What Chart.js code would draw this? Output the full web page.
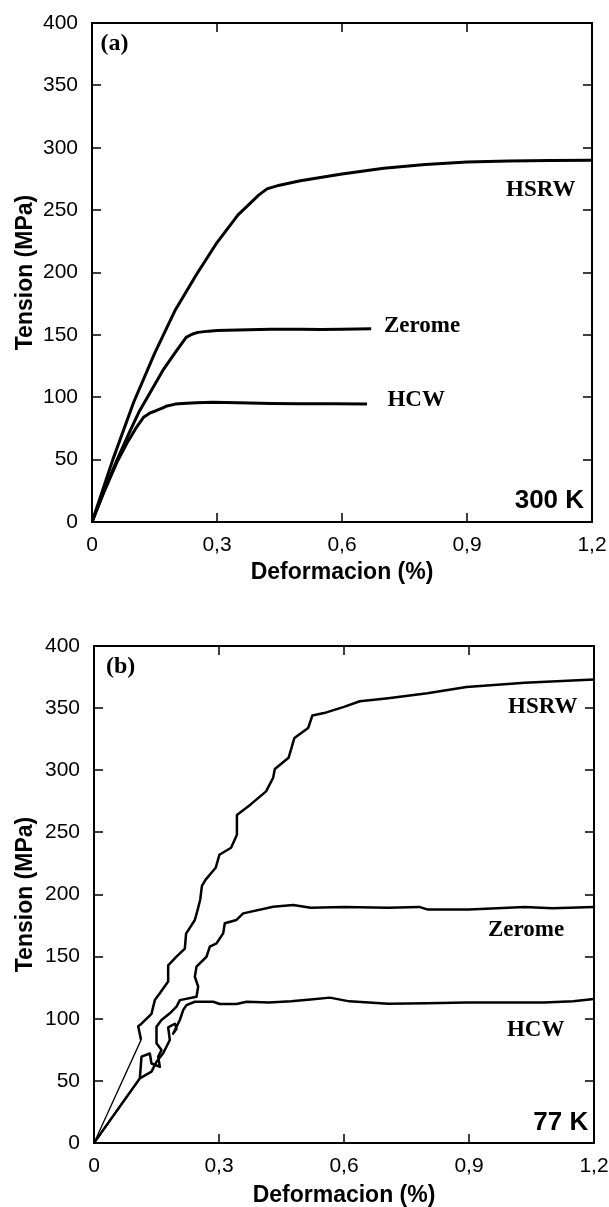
<!DOCTYPE html>
<html>
<head>
<meta charset="utf-8">
<script src="https://cdn.jsdelivr.net/npm/chart.js@4.4.1/dist/chart.umd.min.js"></script>
<style>
  html, body { margin: 0; padding: 0; background: #fff; overflow: hidden; }
  .panel { position: absolute; left: 0; width: 609px; }
  #panelA { top: 0; height: 600px; }
  #panelB { top: 600px; height: 620px; }
</style>
</head>
<body>
<div class="panel" id="panelA"><canvas id="chartA"></canvas></div>
<div class="panel" id="panelB"><canvas id="chartB"></canvas></div>
<script>
// ===== DATA =====

const strainTicks = [0, 0.3, 0.6, 0.9, 1.2];
const stressTicks = [0, 50, 100, 150, 200, 250, 300, 350, 400];

// (a) 300 K
const hsrw300Strain = [0, 0.05, 0.1, 0.15, 0.2, 0.25, 0.3, 0.35, 0.4, 0.42, 0.45, 0.5, 0.6, 0.7, 0.8, 0.9, 1.0, 1.1, 1.2];
const hsrw300Stress = [0, 50, 96, 135, 170, 198, 224, 246, 262, 267, 270, 273.5, 279, 283.5, 286.5, 288.5, 289.3, 289.7, 290];

const zerome300Strain = [0, 0.03, 0.059, 0.09, 0.114, 0.14, 0.17, 0.2, 0.226, 0.24, 0.254, 0.28, 0.3, 0.35, 0.43, 0.5, 0.55, 0.6, 0.67];
const zerome300Stress = [0, 26, 49, 72, 89, 104, 121.5, 136, 148, 150.5, 152, 153, 153.5, 154, 154.5, 154.6, 154.3, 154.6, 155];

const hcw300Strain = [0, 0.03, 0.06, 0.087, 0.105, 0.124, 0.14, 0.152, 0.17, 0.18, 0.2, 0.217, 0.25, 0.29, 0.35, 0.43, 0.5, 0.58, 0.66];
const hcw300Stress = [0, 25, 48, 65, 75, 84, 87.5, 89, 91.5, 93, 94.5, 95, 95.5, 96, 95.5, 95, 94.8, 94.7, 94.6];

// (b) 77 K
const hsrw77Strain = [0, 0.113, 0.106, 0.114, 0.138, 0.146, 0.158, 0.178, 0.178, 0.198, 0.218, 0.221, 0.242, 0.249, 0.255, 0.259, 0.268, 0.292, 0.301, 0.329, 0.343, 0.343, 0.376, 0.413, 0.43, 0.434, 0.467, 0.481, 0.514, 0.524, 0.552, 0.6, 0.638, 0.706, 0.8, 0.894, 1.034, 1.2];
const hsrw77Stress = [0, 83, 94, 96, 104, 115, 120.5, 130, 143, 150, 156.5, 168.5, 179.5, 188, 196, 207, 212, 221.5, 232, 237.6, 248, 264, 272.5, 283, 294, 301, 310, 326, 334, 344, 346, 351, 355.5, 358, 362, 367, 370.5, 373];

const zerome77Strain = [0, 0.11, 0.114, 0.134, 0.138, 0.158, 0.154, 0.162, 0.15, 0.15, 0.162, 0.182, 0.198, 0.206, 0.246, 0.25, 0.242, 0.246, 0.27, 0.278, 0.294, 0.31, 0.314, 0.342, 0.358, 0.43, 0.478, 0.52, 0.6, 0.706, 0.78, 0.8, 0.9, 1.034, 1.1, 1.2];
const zerome77Stress = [0, 52, 69.5, 72, 64, 61.4, 69.5, 74.8, 80.2, 93.6, 99, 104.4, 109.7, 115, 117.7, 125.8, 133.8, 141.9, 149.9, 158, 160.7, 168.7, 176.8, 179.5, 184.8, 190.2, 191.5, 189.3, 190, 189.3, 190, 188, 188, 190, 189, 190];

const hcw77Strain = [0, 0.11, 0.138, 0.15, 0.166, 0.182, 0.178, 0.194, 0.198, 0.19, 0.206, 0.214, 0.222, 0.242, 0.286, 0.302, 0.342, 0.366, 0.42, 0.473, 0.52, 0.566, 0.613, 0.706, 0.8, 0.892, 1.0, 1.08, 1.15, 1.2];
const hcw77Stress = [0, 52, 57.4, 65.4, 72.2, 82.9, 93, 96, 92, 88, 99, 107, 111, 113.7, 113.7, 111.9, 111.9, 113.7, 113, 114, 115.5, 117, 114, 112, 112.5, 113, 113, 113, 114, 116];

// labels written inside the plots (data units)
const notesTextA = ['(a)', 'HSRW', 'Zerome', 'HCW', '300 K'];
const notesXA = [0.054, 1.077, 0.792, 0.778, 1.181];
const notesYA = [383, 265.7, 156.7, 97.8, 17];

const notesTextB = ['(b)', 'HSRW', 'Zerome', 'HCW', '77 K'];
const notesXB = [0.064, 1.077, 1.037, 1.06, 1.186];
const notesYB = [383, 350.5, 171.4, 91, 16];

// ===== STYLE =====

const ARIAL = '"Liberation Sans", Arial, sans-serif';
const TIMES = '"Liberation Serif", "Times New Roman", serif';
const noteFonts = [
    { font: 'bold 24px ' + TIMES, align: 'center' },
    { font: 'bold 23px ' + TIMES, align: 'center' },
    { font: 'bold 23px ' + TIMES, align: 'center' },
    { font: 'bold 23px ' + TIMES, align: 'center' },
    { font: 'bold 26px ' + ARIAL, align: 'right' }
];

function pairs(xs, ys) {
    return xs.map((x, i) => ({ x: x, y: ys[i] }));
}

// box round the plot, with ticks pointing inwards on all four sides
const framePlugin = {
    id: 'frame',
    afterDatasetsDraw(chart) {
        const { ctx, chartArea: a, scales: { x, y } } = chart;
        const len = 9;
        ctx.save();
        ctx.strokeStyle = '#000';
        ctx.lineWidth = 1.5;
        ctx.beginPath();
        x.ticks.forEach(t => {
            const px = Math.round(x.getPixelForValue(t.value));
            ctx.moveTo(px, a.bottom); ctx.lineTo(px, a.bottom - len);
            ctx.moveTo(px, a.top); ctx.lineTo(px, a.top + len);
        });
        y.ticks.forEach(t => {
            const py = Math.round(y.getPixelForValue(t.value));
            ctx.moveTo(a.left, py); ctx.lineTo(a.left + len, py);
            ctx.moveTo(a.right, py); ctx.lineTo(a.right - len, py);
        });
        ctx.stroke();
        ctx.lineWidth = 2;
        ctx.strokeRect(a.left, a.top, a.right - a.left, a.bottom - a.top);
        ctx.restore();
    }
};

const notesPlugin = {
    id: 'notes',
    afterDatasetsDraw(chart, args, opts) {
        const { ctx, scales: { x, y } } = chart;
        ctx.save();
        ctx.fillStyle = '#000';
        ctx.textBaseline = 'middle';
        opts.text.forEach((txt, i) => {
            ctx.font = noteFonts[i].font;
            ctx.textAlign = noteFonts[i].align;
            ctx.fillText(txt, x.getPixelForValue(opts.xs[i]), y.getPixelForValue(opts.ys[i]));
        });
        ctx.restore();
    }
};

// the frame is fixed, so drop the room chart.js keeps for edge labels
function noEdgePadding(s) {
    s.paddingLeft = 0;
    s.paddingRight = 0;
    s.paddingTop = 0;
    s.paddingBottom = 0;
}

function buildChart(id, series, geo, notes) {
    return new Chart(document.getElementById(id), {
        type: 'scatter',
        data: {
            datasets: series.map((s, i) => ({
                data: pairs(s[0], s[1]),
                showLine: true,
                borderColor: '#000',
                borderWidth: geo.lineWidth,
                pointRadius: 0,
                tension: 0,
                borderJoinStyle: 'round',
                segment: {
                    borderWidth: c => c.p0DataIndex === 0 ? geo.firstWidth[i] : geo.lineWidth
                }
            }))
        },
        options: {
            responsive: true,
            maintainAspectRatio: false,
            animation: false,
            devicePixelRatio: 1,
            layout: { padding: { top: geo.top, right: geo.right, left: 0, bottom: 0 } },
            plugins: {
                legend: { display: false },
                tooltip: { enabled: false },
                notes: notes
            },
            scales: {
                x: {
                    type: 'linear',
                    min: 0,
                    max: 1.2,
                    afterBuildTicks: s => { s.ticks = strainTicks.map(v => ({ value: v })); },
                    afterFit: s => { s.height = geo.xHeight; noEdgePadding(s); },
                    grid: { display: false, drawTicks: false },
                    border: { display: false },
                    ticks: {
                        padding: 11,
                        color: '#000',
                        autoSkip: false,
                        maxRotation: 0,
                        font: { family: ARIAL, size: 21 },
                        callback: v => v === 0 ? '0' : v.toFixed(1).replace('.', ',')
                    },
                    title: {
                        display: true,
                        text: 'Deformacion (%)',
                        color: '#000',
                        font: { family: ARIAL, size: 23, weight: 'bold' },
                        padding: { top: 0, bottom: geo.xTitlePad }
                    }
                },
                y: {
                    type: 'linear',
                    min: 0,
                    max: 400,
                    afterBuildTicks: s => { s.ticks = stressTicks.map(v => ({ value: v })); },
                    afterFit: s => { s.width = geo.left; noEdgePadding(s); },
                    grid: { display: false, drawTicks: false },
                    border: { display: false },
                    ticks: {
                        padding: 14,
                        color: '#000',
                        autoSkip: false,
                        font: { family: ARIAL, size: 21 }
                    },
                    title: {
                        display: true,
                        text: 'Tension (MPa)',
                        color: '#000',
                        font: { family: ARIAL, size: 23, weight: 'bold' },
                        padding: { top: 12, bottom: 0 }
                    }
                }
            }
        },
        plugins: [framePlugin, notesPlugin]
    });
}

buildChart('chartA',
    [[hsrw300Strain, hsrw300Stress], [zerome300Strain, zerome300Stress], [hcw300Strain, hcw300Stress]],
    { top: 23, right: 17, left: 92, xHeight: 78, xTitlePad: 14, lineWidth: 3, firstWidth: [3, 3, 3] },
    { text: notesTextA, xs: notesXA, ys: notesYA });

buildChart('chartB',
    [[hsrw77Strain, hsrw77Stress], [zerome77Strain, zerome77Stress], [hcw77Strain, hcw77Stress]],
    { top: 46, right: 15, left: 94, xHeight: 77, xTitlePad: 11, lineWidth: 2.5, firstWidth: [1.3, 2.2, 2.2] },
    { text: notesTextB, xs: notesXB, ys: notesYB });
</script>
</body>
</html>
